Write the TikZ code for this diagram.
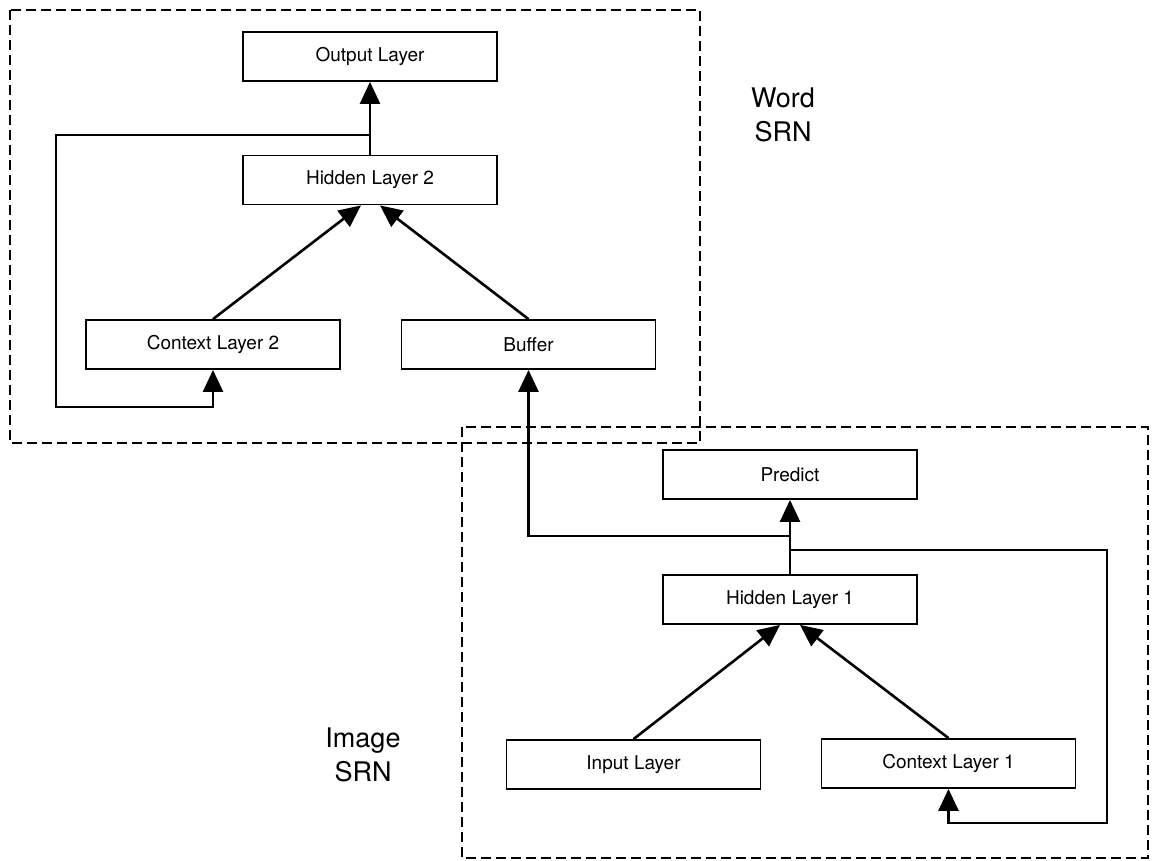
\documentclass[tikz,border=0pt]{standalone}
\usepackage{fontspec}
\setmainfont{TeX Gyre Heros}
\usetikzlibrary{arrows.meta,calc}

\tikzset{
  layer/.style={draw, line width=1.8pt, minimum width=254pt, minimum height=49pt,
    inner sep=0pt, font=\fontsize{19}{22}\selectfont},
  link/.style={line width=2.6pt, -{Triangle[length=22pt,width=20pt]}},
  wire/.style={line width=2.6pt},
  group/.style={line width=2.6pt, dash pattern=on 10pt off 5pt},
  caption/.style={align=center, font=\fontsize{27}{34}\selectfont}
}

\begin{document}
\begin{tikzpicture}[x=1pt,y=-1pt]
\useasboundingbox (0,0) rectangle (1152,860);

% dashed outlines of the two networks
\draw[group] (10,10) rectangle (700,443);
\draw[group] (462,427) rectangle (1148,858);

% group captions
\node[caption] (wordcap) at (783,115) {Word\\SRN};
\node[caption] (imgcap) at (363,755) {Image\\SRN};

% word network
\node[layer] (out)  at (370,56.5)  {Output Layer};
\node[layer] (hid2) at (370,180)   {Hidden Layer 2};
\node[layer] (ctx2) at (213,344.5) {Context Layer 2};
\node[layer] (buf)  at (528.5,344.5) {Buffer};

% image network
\node[layer] (pred) at (790,474.5) {Predict};
\node[layer] (hid1) at (790,599.5) {Hidden Layer 1};
\node[layer] (inp)  at (633.5,764.5) {Input Layer};
\node[layer] (ctx1) at (948.5,763.5) {Context Layer 1};

% junction and corner points
\coordinate (j2)  at (370,135);
\coordinate (c2a) at (56,135);
\coordinate (c2b) at (56,407);
\coordinate (j1a) at (790,536);
\coordinate (j1b) at (790,550);
\coordinate (c1a) at (1107,550);
\coordinate (c1b) at (1107,823);

% word network connections
\draw[link] (hid2.north) -- (out.south);
\draw[link] (j2) -- (c2a) -- (c2b) -| (ctx2.south);
\draw[link] (ctx2.north) -- ($(hid2.south)+(-9,0)$);
\draw[link] (buf.north) -- ($(hid2.south)+(10,0)$);

% image network connections
\draw[link] (hid1.north) -- (pred.south);
\draw[link] (j1a) -| (buf.south);
\draw[link] (j1b) -- (c1a) -- (c1b) -| (ctx1.south);
\draw[link] (inp.north) -- ($(hid1.south)+(-10,0)$);
\draw[link] (ctx1.north) -- ($(hid1.south)+(10,0)$);
\end{tikzpicture}
\end{document}
